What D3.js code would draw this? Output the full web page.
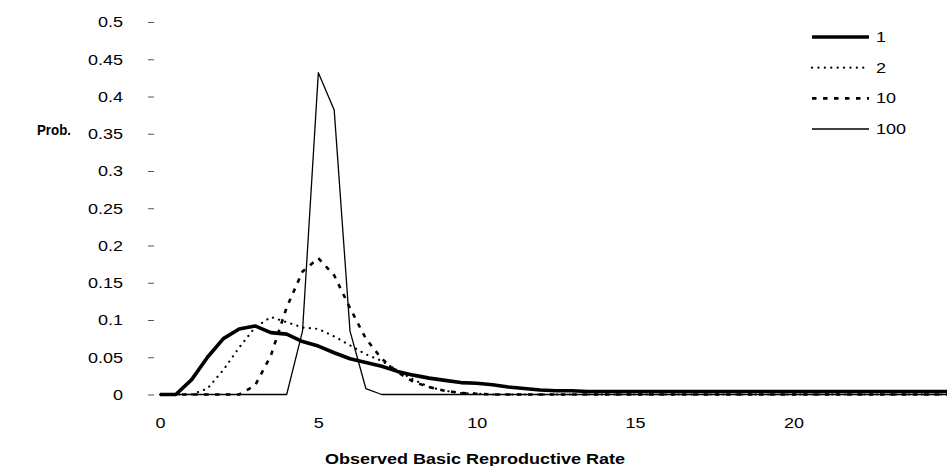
<!DOCTYPE html>
<html>
<head>
<meta charset="utf-8">
<script src="https://cdn.jsdelivr.net/npm/d3@7"></script>
<style>
  html, body { margin: 0; padding: 0; background: #fff; }
  svg { display: block; }
  text { font-family: "Liberation Sans", Arial, sans-serif; fill: #000; }
</style>
</head>
<body>
<svg id="chart" width="947" height="466"></svg>
<script>
// ---- data ----
const xValues = [0,0.5,1,1.5,2,2.5,3,3.5,4,4.5,5,5.5,6,6.5,7,7.5,8,8.5,9,9.5,10,10.5,11,11.5,12,12.5,13,13.5,14,14.5,15,15.5,16,16.5,17,17.5,18,18.5,19,19.5,20,20.5,21,21.5,22,22.5,23,23.5,24,24.5,25];
const series1 = [0,0,0.02,0.05,0.075,0.088,0.092,0.083,0.081,0.071,0.065,0.056,0.048,0.043,0.038,0.031,0.026,0.022,0.019,0.016,0.015,0.013,0.010,0.008,0.006,0.005,0.005,0.004,0.004,0.004,0.004,0.004,0.004,0.004,0.004,0.004,0.004,0.004,0.004,0.004,0.004,0.004,0.004,0.004,0.004,0.004,0.004,0.004,0.004,0.004,0.004];
const series2 = [0,0,0,0.008,0.033,0.063,0.09,0.104,0.097,0.09,0.088,0.078,0.066,0.054,0.045,0.032,0.02,0.01,0.005,0.002,0.001,0,0,0,0,0,0,0,0,0,0,0,0,0,0,0,0,0,0,0,0,0,0,0,0,0,0,0,0,0,0];
const series10 = [0,0,0,0,0,0,0.012,0.052,0.117,0.165,0.183,0.16,0.116,0.075,0.048,0.03,0.017,0.01,0.005,0.002,0.001,0,0,0,0,0,0,0,0,0,0,0,0,0,0,0,0,0,0,0,0,0,0,0,0,0,0,0,0,0,0];
const series100 = [0,0,0,0,0,0,0,0,0,0.085,0.432,0.382,0.085,0.008,0,0,0,0,0,0,0,0,0,0,0,0,0,0,0,0,0,0,0,0,0,0,0,0,0,0,0,0,0,0,0,0,0,0,0,0,0];
const seriesNames = ["1","2","10","100"];
const yTicks = [0,0.05,0.1,0.15,0.2,0.25,0.3,0.35,0.4,0.45,0.5];
const xTicks = [0,5,10,15,20];
const yTitle = "Prob.";
const xTitle = "Observed Basic Reproductive Rate";

// ---- layout ----
const svg = d3.select("#chart");
const x = d3.scaleLinear().domain([0, 24.85]).range([160, 947]);
const y = d3.scaleLinear().domain([0, 0.5]).range([394.5, 22]);
const FONT = "Liberation Sans, Arial, sans-serif";

const styles = {
  "1":   { width: 3.6, dash: null, cap: "butt" },
  "2":   { width: 2.2, dash: "0.1,6.3", cap: "round" },
  "10":  { width: 2.6, dash: "4.5,6.5", cap: "butt" },
  "100": { width: 1.3, dash: null, cap: "butt" }
};
const allSeries = { "1": series1, "2": series2, "10": series10, "100": series100 };

svg.append("defs").append("clipPath").attr("id", "plotclip")
  .append("rect").attr("x", 140).attr("y", 0).attr("width", 807).attr("height", 466);

// y axis: labels + tiny ticks, no axis line
const yAxis = d3.axisLeft(y).tickValues(yTicks).tickSize(6).tickPadding(25)
  .tickFormat(d => d3.format("")(+d.toFixed(2)));
const gy = svg.append("g").attr("transform", "translate(154,0)").call(yAxis);
gy.select(".domain").remove();
gy.selectAll(".tick line").attr("stroke", "#555").attr("stroke-width", 1);
gy.selectAll(".tick text").attr("font-size", 15).attr("font-family", FONT).attr("fill", "#000");

// x axis: labels only
const xAxis = d3.axisBottom(x).tickValues(xTicks).tickSize(0).tickPadding(22).tickFormat(d3.format("d"));
const gx = svg.append("g").attr("transform", "translate(0,395)").call(xAxis);
gx.select(".domain").remove();
gx.selectAll(".tick text").attr("font-size", 15).attr("font-family", FONT).attr("fill", "#000");

// titles
svg.append("text").attr("x", 475).attr("y", 464).attr("text-anchor", "middle").attr("font-size", 15).attr("font-weight", "bold").text(xTitle);

// lines
const line = d3.line().x(d => x(d[0])).y(d => y(d[1]));
const plot = svg.append("g").attr("clip-path", "url(#plotclip)");
["100", "10", "2", "1"].forEach(name => {
  const vals = allSeries[name];
  const pts = xValues.map((xv, i) => [xv, vals[i]]);
  const st = styles[name];
  plot.append("path").datum(pts)
    .attr("d", line)
    .attr("fill", "none")
    .attr("stroke", "#000")
    .attr("stroke-width", st.width)
    .attr("stroke-linecap", st.cap)
    .attr("stroke-linejoin", "round")
    .attr("stroke-dasharray", st.dash);
});

// legend
const legend = svg.append("g");
const legendY = d3.scalePoint().domain(seriesNames).range([37, 129]);
seriesNames.forEach(name => {
  const st = styles[name];
  const yy = legendY(name);
  legend.append("line").attr("x1", 812).attr("x2", 869).attr("y1", yy).attr("y2", yy)
    .attr("stroke", "#000").attr("stroke-width", st.width)
    .attr("stroke-linecap", st.cap).attr("stroke-dasharray", st.dash);
  legend.append("text").attr("x", 876).attr("y", yy + 5).attr("font-size", 15).text(name);
});

// the original typography is horizontally wide: stretch glyphs a little
svg.selectAll("text").each(function() {
  const w = this.getComputedTextLength();
  if (w > 0) d3.select(this).attr("textLength", w * 1.2).attr("lengthAdjust", "spacingAndGlyphs");
});

// y title
svg.append("text").attr("x", 37).attr("y", 135).attr("font-size", 14.5).attr("font-weight", "bold")
  .attr("textLength", 34).attr("lengthAdjust", "spacingAndGlyphs").text(yTitle);
</script>
</body>
</html>
